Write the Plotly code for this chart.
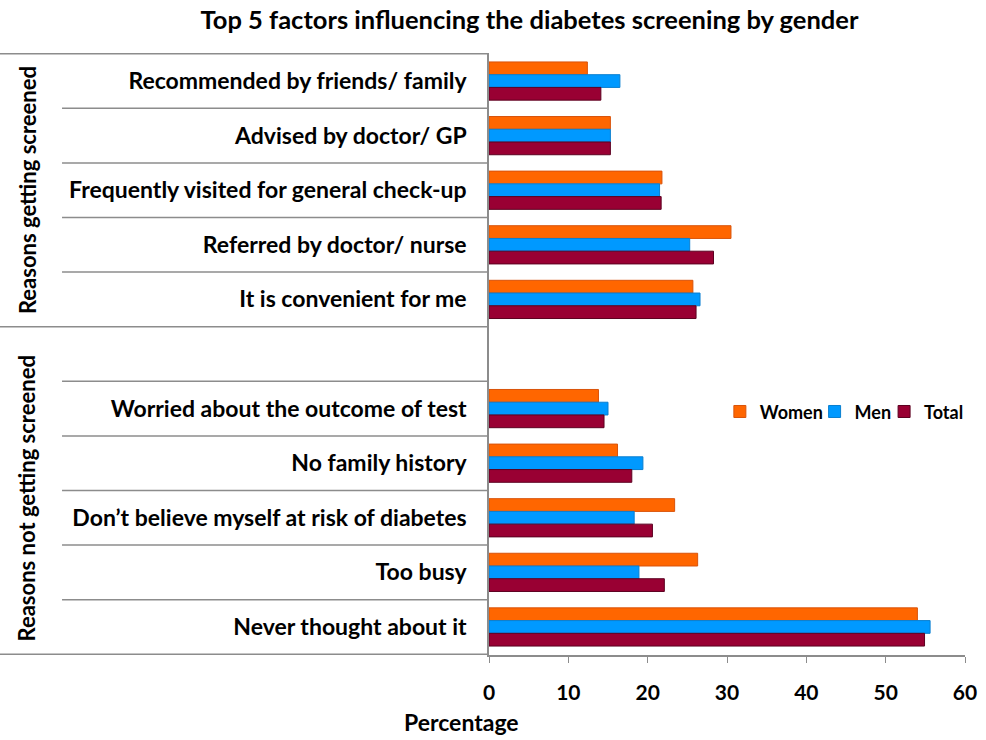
import plotly.graph_objects as go

# razones (de arriba hacia abajo)
razones_si = [
    "Recommended by friends/ family",
    "Advised by doctor/ GP",
    "Frequently visited for general check-up",
    "Referred by doctor/ nurse",
    "It is convenient for me",
]
razones_no = [
    "Worried about the outcome of test",
    "No family history",
    "Don\u2019t believe myself at risk of diabetes",
    "Too busy",
    "Never thought about it",
]

women_si = [12.4, 15.3, 21.8, 30.5, 25.7]
men_si = [16.5, 15.3, 21.5, 25.3, 26.6]
total_si = [14.1, 15.3, 21.7, 28.3, 26.1]

women_no = [13.8, 16.2, 23.4, 26.3, 54.0]
men_no = [15.0, 19.4, 18.3, 18.9, 55.6]
total_no = [14.5, 18.0, 20.6, 22.1, 54.9]

grupos = ["Reasons getting screened", "Reasons not getting screened"]
x_ticks = [0, 10, 20, 30, 40, 50, 60]

# hueco vacio entre los dos grupos
hueco = " "
categorias = razones_si + [hueco] + razones_no

series = [
    ("Women", women_si + [None] + women_no, "#FF6600", "#D9530A", "legend", 0.485),
    ("Men", men_si + [None] + men_no, "#0099FF", "#0A7FD0", "legend2", 0.684),
    ("Total", total_si + [None] + total_no, "#990033", "#5C0020", "legend3", 0.830),
]

fig = go.Figure()
for nombre, valores, color, borde, leyenda, _ in series:
    fig.add_trace(go.Bar(
        name=nombre,
        y=categorias,
        x=valores,
        orientation="h",
        marker=dict(color=color, line=dict(color=borde, width=1)),
        legend=leyenda,
    ))

gris = "#8C8C8C"

# lineas separadoras en la zona de etiquetas
shapes = []
n = len(categorias)
limites_grupo = [-0.5, len(razones_si) - 0.5, n - 0.5]
for i in range(n + 1):
    pos = i - 0.5
    x0 = -1.03 if pos in limites_grupo else -0.897
    shapes.append(dict(
        type="line", xref="paper", yref="y",
        x0=x0, x1=0, y0=pos, y1=pos,
        line=dict(color=gris, width=1.5),
    ))

fig.update_layout(
    width=986,
    height=740,
    margin=dict(l=489, r=21, t=53, b=85, autoexpand=False),
    plot_bgcolor="white",
    paper_bgcolor="white",
    font=dict(family="Lato", color="black", weight="bold"),
    barmode="group",
    bargap=0.3,
    bargroupgap=0,
    title=dict(
        text="Top 5 factors influencing the diabetes screening by gender",
        x=0.537, xanchor="center", y=0.973, yanchor="middle",
        font=dict(size=25.5, family="Lato", weight="bold"),
    ),
    shapes=shapes,
    showlegend=True,
)

# una leyenda por serie para colocar cada entrada
for nombre, _, _, _, leyenda, xpos in series:
    fig.update_layout({leyenda: dict(
        orientation="h",
        x=xpos, xanchor="left",
        y=0.404, yanchor="middle",
        font=dict(size=18, weight="bold"),
        bgcolor="rgba(0,0,0,0)",
        itemwidth=30,
    )})

fig.update_xaxes(
    range=[0, 60],
    tickvals=x_ticks,
    ticks="outside",
    ticklen=6,
    tickcolor=gris,
    showline=True,
    linecolor=gris,
    linewidth=1.5,
    showgrid=False,
    zeroline=False,
    tickfont=dict(size=21, weight="bold"),
    ticklabelstandoff=12,
)

fig.update_yaxes(
    categoryorder="array",
    categoryarray=categorias,
    autorange="reversed",
    showline=True,
    linecolor=gris,
    linewidth=1.5,
    showgrid=False,
    ticks="",
    tickfont=dict(size=23, weight="bold"),
    ticklabelstandoff=16,
)

# titulos de grupo (rotados)
fig.add_annotation(
    text=grupos[0], textangle=-90, xref="paper", yref="y",
    x=-0.971, y=(len(razones_si) - 1) / 2, showarrow=False,
    font=dict(size=22, weight="bold"), xanchor="center", yanchor="middle",
)
fig.add_annotation(
    text=grupos[1], textangle=-90, xref="paper", yref="y",
    x=-0.971, y=len(razones_si) + len(razones_no) / 2 + 0.15, showarrow=False,
    font=dict(size=22, weight="bold"), xanchor="center", yanchor="middle",
)

fig.add_annotation(
    text="Percentage", xref="paper", yref="paper",
    x=-0.057, y=-0.111, showarrow=False,
    font=dict(size=23, weight="bold"), xanchor="center", yanchor="middle",
)

fig.write_html(
    "out.html",
    config={"displayModeBar": False},
    post_script="document.body.style.margin='0';",
)
